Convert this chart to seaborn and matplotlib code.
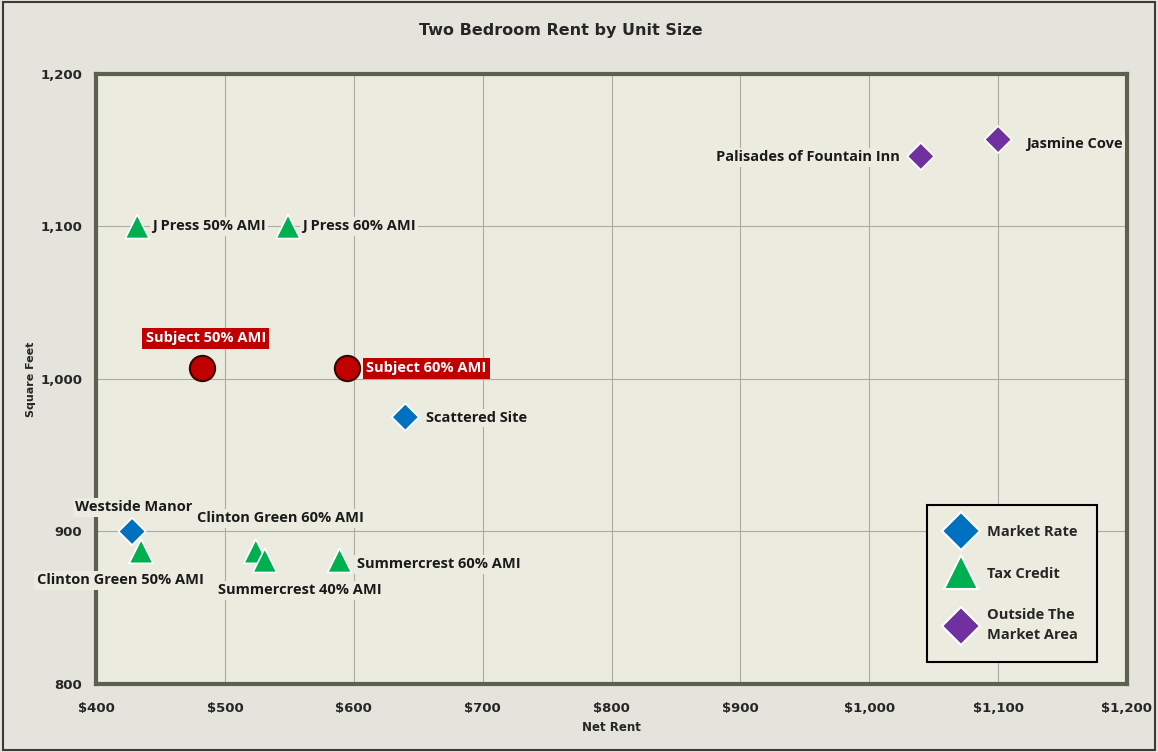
import matplotlib
matplotlib.use("Agg")
import matplotlib.pyplot as plt
import seaborn as sns
import pandas as pd
from matplotlib.lines import Line2D
from matplotlib.patches import Rectangle
from matplotlib.ticker import FuncFormatter, MultipleLocator

# ---- data ----
names = ["J Press 50% AMI", "J Press 60% AMI", "Scattered Site", "Westside Manor",
         "Clinton Green 50% AMI", "Clinton Green 60% AMI", "Summercrest 40% AMI",
         "Summercrest 60% AMI", "Palisades of Fountain Inn", "Jasmine Cove"]
rents = [432, 549, 640, 428, 435, 524, 531, 589, 1040, 1100]
sqft = [1100, 1100, 975, 900, 887, 887, 881, 881, 1146, 1157]
categories = ["Tax Credit", "Tax Credit", "Market Rate", "Market Rate",
              "Tax Credit", "Tax Credit", "Tax Credit", "Tax Credit",
              "Outside The Market Area", "Outside The Market Area"]

subject_names = ["Subject 50% AMI", "Subject 60% AMI"]
subject_rents = [482, 595]
subject_sqft = [1007, 1007]

legend_labels = ["Market Rate", "Tax Credit", "Outside The\nMarket Area"]

# ---- style ----
sns.set_theme(style="white")
plt.rcParams["font.family"] = ["Liberation Sans Narrow", "DejaVu Sans"]
label_family = ["Open Sans", "DejaVu Sans"]

fig_bg = "#e4e4dc"
ax_bg = "#ebebdf"
palette = {"Market Rate": "#0070c0", "Tax Credit": "#00b050",
           "Outside The Market Area": "#7030a0"}
markers = {"Market Rate": "D", "Tax Credit": "^", "Outside The Market Area": "D"}

fig = plt.figure(figsize=(11.58, 7.52), dpi=100, facecolor=fig_bg)
ax = fig.add_axes([96 / 1158, 68 / 752, 1031 / 1158, 610 / 752])
ax.set_facecolor(ax_bg)

df = pd.DataFrame({"name": names, "rent": rents, "sqft": sqft, "cat": categories})
df["size"] = df["cat"].map({"Market Rate": 190, "Tax Credit": 300,
                            "Outside The Market Area": 190})

sns.scatterplot(data=df, x="rent", y="sqft", hue="cat", style="cat",
                palette=palette, markers=markers, size="size",
                sizes=(190, 300), edgecolor="white", linewidth=1.2,
                legend=False, ax=ax, zorder=5)

sdf = pd.DataFrame({"name": subject_names, "rent": subject_rents, "sqft": subject_sqft})
sns.scatterplot(data=sdf, x="rent", y="sqft", color="#c00000", marker="o", s=330,
                edgecolor="#3a0000", linewidth=1.5, legend=False, ax=ax, zorder=6)

ax.set_xlim(400, 1200)
ax.set_ylim(800, 1200)
ax.xaxis.set_major_locator(MultipleLocator(100))
ax.yaxis.set_major_locator(MultipleLocator(100))
ax.xaxis.set_major_formatter(FuncFormatter(lambda v, p: f"${v:,.0f}"))
ax.yaxis.set_major_formatter(FuncFormatter(lambda v, p: f"{v:,.0f}"))
ax.grid(True, color="#ababa3", linewidth=0.8)
ax.set_axisbelow(True)
for s in ax.spines.values():
    s.set_color("#5c604f")
    s.set_linewidth(3)
ax.tick_params(axis="both", which="major", length=4, width=1, color="#808080",
               direction="out", labelsize=9.5, pad=9)
ax.tick_params(axis="y", pad=6)
for lbl in ax.get_xticklabels() + ax.get_yticklabels():
    lbl.set_fontweight("bold")

ax.set_xlabel("Net Rent", fontsize=8.5, fontweight="bold", labelpad=4)
ax.set_ylabel("Square Feet", fontsize=8, fontweight="bold", labelpad=3)

fig.text(561 / 1158, 1 - 31 / 752, "Two Bedroom Rent by Unit Size",
         ha="center", va="center", fontsize=11.5, fontweight="bold")

# ---- point labels (offsets in pixels) ----
offsets = {
    "J Press 50% AMI": (15, 0, "left"),
    "J Press 60% AMI": (14, 0, "left"),
    "Scattered Site": (21, -1, "left"),
    "Westside Manor": (2, 24, "center"),
    "Clinton Green 50% AMI": (-21, -29, "center"),
    "Clinton Green 60% AMI": (25, 33, "center"),
    "Summercrest 40% AMI": (35, -30, "center"),
    "Summercrest 60% AMI": (17, -4, "left"),
    "Palisades of Fountain Inn": (-21, -1, "right"),
    "Jasmine Cove": (28, -4, "left"),
}
for n, x, y in zip(names, rents, sqft):
    dx, dy, ha = offsets[n]
    ax.annotate(n, (x, y), xytext=(dx, dy), textcoords="offset pixels",
                ha=ha, va="center", fontsize=10.5, fontweight="bold",
                family=label_family, color="#1a1a1a", zorder=4,
                bbox=dict(boxstyle="square,pad=0.15", fc=ax_bg, ec="none"))

sub_offsets = {"Subject 50% AMI": (4, 30, "center"), "Subject 60% AMI": (19, 0, "left")}
for n, x, y in zip(subject_names, subject_rents, subject_sqft):
    dx, dy, ha = sub_offsets[n]
    ax.annotate(n, (x, y), xytext=(dx, dy), textcoords="offset pixels",
                ha=ha, va="center", fontsize=10.5, fontweight="bold",
                family=label_family, color="white", zorder=7,
                bbox=dict(boxstyle="square,pad=0.25", fc="#c00000", ec="none"))

# ---- legend ----
handles = [
    Line2D([], [], linestyle="none", marker="D", markersize=19,
           markerfacecolor=palette["Market Rate"], markeredgecolor="white", markeredgewidth=1.5),
    Line2D([], [], linestyle="none", marker="^", markersize=24,
           markerfacecolor=palette["Tax Credit"], markeredgecolor="white", markeredgewidth=1.5),
    Line2D([], [], linestyle="none", marker="D", markersize=19,
           markerfacecolor=palette["Outside The Market Area"], markeredgecolor="white",
           markeredgewidth=1.5),
]
leg = ax.legend(handles, legend_labels, loc="lower right",
                bbox_to_anchor=(0.971, 0.036), borderaxespad=0, frameon=True,
                fancybox=False, edgecolor="black", facecolor=ax_bg, framealpha=1,
                prop={"family": label_family, "weight": "bold", "size": 10.5},
                labelspacing=1.9, handletextpad=0.8, borderpad=1.35, handlelength=1.9)
leg.get_texts()[2].set_linespacing(1.55)
leg.get_frame().set_linewidth(1.5)
leg.set_zorder(10)

fig.patches.append(Rectangle((0.003, 0.003), 0.994, 0.994, transform=fig.transFigure,
                             fill=False, edgecolor="#3a3a3a", linewidth=1.5))

fig.savefig("out.png", dpi=100, facecolor=fig_bg)
